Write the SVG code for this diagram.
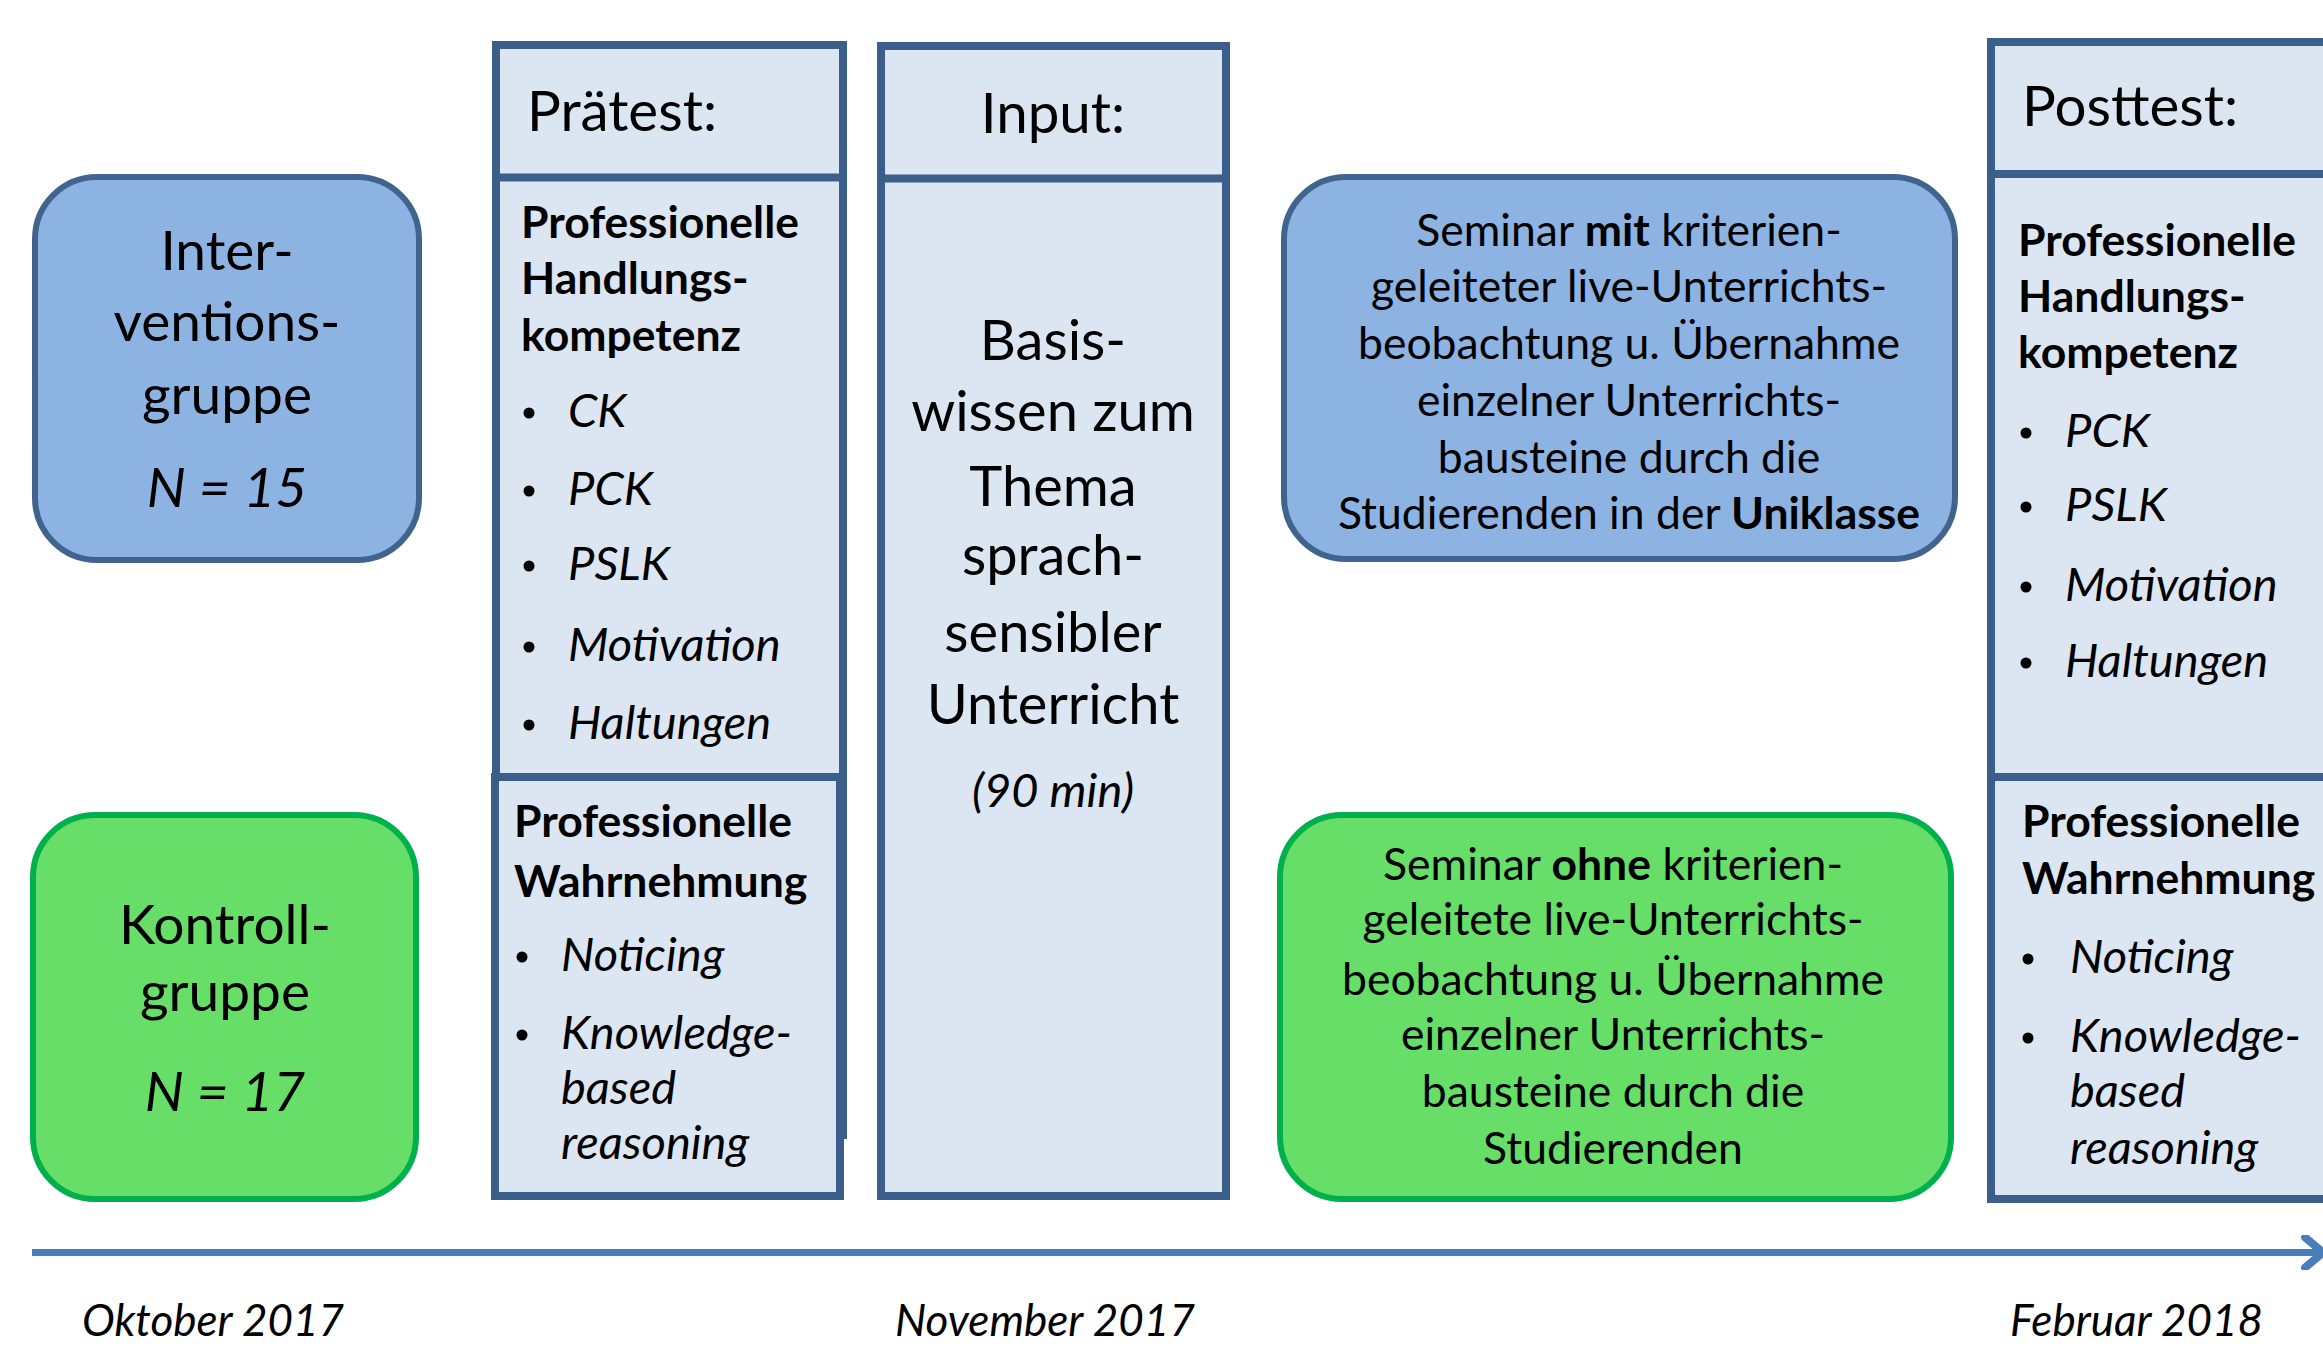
<svg xmlns="http://www.w3.org/2000/svg" width="2323" height="1348" viewBox="0 0 2323 1348">
  <style>
    text { font-family: Lato, "Open Sans", sans-serif; fill: #000; }
    .col { fill: #dce6f2; stroke: #3b5e8b; stroke-width: 8; }
    .div { stroke: #3b5e8b; stroke-width: 8; }
    .blue { fill: #8db3e2; stroke: #41648f; stroke-width: 6; }
    .green { fill: #66de68; stroke: #00b04c; stroke-width: 6; }
    .hdr { font-size: 56.5px; }
    .grp { font-size: 55px; text-anchor: middle; }
    .bold { font-size: 44.5px; font-weight: bold; }
    .it { font-size: 47px; font-style: italic; }
    .basis { font-size: 56px; text-anchor: middle; }
    .sem { font-size: 44.5px; text-anchor: middle; }
    .date { font-size: 44px; font-style: italic; }
    .mid { text-anchor: middle; }
    .dot { fill: #000; }
  </style>
  <defs>
    <marker id="chev" viewBox="0 0 10 10" refX="9" refY="5" markerWidth="5" markerHeight="5" markerUnits="strokeWidth" orient="auto">
      <path d="M3.9,0.7 L9,5 L3.9,9.3" fill="none" stroke="#4a7ebb" stroke-width="2.3" stroke-linecap="round" stroke-linejoin="round"/>
    </marker>
  </defs>

  <rect width="2323" height="1348" fill="#fff"/>

  <!-- timeline -->
  <g id="connectors">
    <line x1="32" y1="1252.5" x2="2323" y2="1252.5" stroke="#4a7ebb" stroke-width="7" marker-end="url(#chev)"/>
  </g>

  <!-- groups -->
  <g id="interventionsgruppe">
    <rect class="blue" x="35" y="177" width="384" height="383" rx="62"/>
    <text class="grp" x="227" y="270">Inter-</text>
    <text class="grp" x="227" y="341">ventions-</text>
    <text class="grp" x="227" y="414">gruppe</text>
    <text class="grp" x="227" y="507" font-style="italic">N = 15</text>
  </g>

  <g id="kontrollgruppe">
    <rect class="green" x="33" y="815" width="383" height="384" rx="62"/>
    <text class="grp" x="225" y="944">Kontroll-</text>
    <text class="grp" x="225" y="1011">gruppe</text>
    <text class="grp" x="225" y="1111" font-style="italic">N = 17</text>
  </g>

  <!-- pre-test column -->
  <g id="praetest">
    <rect class="col" x="496" y="45" width="347" height="1090"/>
    <line class="div" x1="496" y1="177.5" x2="843" y2="177.5"/>
    <text class="hdr" x="527" y="131">Prätest:</text>
    <text class="bold" x="521" y="238">Professionelle</text>
    <text class="bold" x="521" y="294">Handlungs-</text>
    <text class="bold" x="521" y="351">kompetenz</text>
    <circle class="dot" cx="529" cy="413" r="5.5"/><text class="it" x="568" y="427">CK</text>
    <circle class="dot" cx="529" cy="491" r="5.5"/><text class="it" x="568" y="505">PCK</text>
    <circle class="dot" cx="529" cy="566" r="5.5"/><text class="it" x="568" y="580">PSLK</text>
    <circle class="dot" cx="529" cy="647" r="5.5"/><text class="it" x="568" y="661">Motivation</text>
    <circle class="dot" cx="529" cy="725" r="5.5"/><text class="it" x="568" y="739">Haltungen</text>
  </g>

  <g id="praetest-wahrnehmung">
    <rect class="col" x="495" y="777" width="345" height="419"/>
    <text class="bold" x="514" y="837">Professionelle</text>
    <text class="bold" x="514" y="897">Wahrnehmung</text>
    <circle class="dot" cx="522" cy="957" r="5.5"/><text class="it" x="561" y="971">Noticing</text>
    <circle class="dot" cx="522" cy="1035" r="5.5"/><text class="it" x="561" y="1049">Knowledge-</text>
    <text class="it" x="561" y="1104">based</text>
    <text class="it" x="561" y="1159">reasoning</text>
  </g>

  <!-- input column -->
  <g id="input">
    <rect class="col" x="881" y="46" width="345" height="1150"/>
    <line class="div" x1="881" y1="178.5" x2="1226" y2="178.5"/>
    <text class="hdr mid" x="1053" y="133">Input:</text>
    <text class="basis" x="1053" y="360">Basis-</text>
    <text class="basis" x="1053" y="431">wissen zum</text>
    <text class="basis" x="1053" y="506">Thema</text>
    <text class="basis" x="1053" y="575">sprach-</text>
    <text class="basis" x="1053" y="652">sensibler</text>
    <text class="basis" x="1053" y="724">Unterricht</text>
    <text class="it mid" x="1053" y="807">(90 min)</text>
  </g>

  <!-- seminars -->
  <g id="seminar-mit">
    <rect class="blue" x="1284" y="177" width="671" height="382" rx="62"/>
    <text class="sem" x="1629" y="246">Seminar <tspan font-weight="bold">mit</tspan> kriterien-</text>
    <text class="sem" x="1629" y="302">geleiteter live-Unterrichts-</text>
    <text class="sem" x="1629" y="359">beobachtung u. Übernahme</text>
    <text class="sem" x="1629" y="416">einzelner Unterrichts-</text>
    <text class="sem" x="1629" y="473">bausteine durch die</text>
    <text class="sem" x="1629" y="529">Studierenden in der <tspan font-weight="bold">Uniklasse</tspan></text>
  </g>

  <g id="seminar-ohne">
    <rect class="green" x="1280" y="815" width="671" height="384" rx="62"/>
    <text class="sem" x="1613" y="880">Seminar <tspan font-weight="bold">ohne</tspan> kriterien-</text>
    <text class="sem" x="1613" y="935">geleitete live-Unterrichts-</text>
    <text class="sem" x="1613" y="995">beobachtung u. Übernahme</text>
    <text class="sem" x="1613" y="1050">einzelner Unterrichts-</text>
    <text class="sem" x="1613" y="1107">bausteine durch die</text>
    <text class="sem" x="1613" y="1164">Studierenden</text>
  </g>

  <!-- post-test column -->
  <g id="posttest">
    <rect class="col" x="1991" y="42" width="400" height="1157"/>
    <line class="div" x1="1991" y1="174" x2="2391" y2="174"/>
    <line class="div" x1="1991" y1="777" x2="2391" y2="777"/>
    <text class="hdr" x="2022" y="126">Posttest:</text>
    <text class="bold" x="2018" y="256">Professionelle</text>
    <text class="bold" x="2018" y="312">Handlungs-</text>
    <text class="bold" x="2018" y="368">kompetenz</text>
    <circle class="dot" cx="2026" cy="433" r="5.5"/><text class="it" x="2065" y="447">PCK</text>
    <circle class="dot" cx="2026" cy="507" r="5.5"/><text class="it" x="2065" y="521">PSLK</text>
    <circle class="dot" cx="2026" cy="587" r="5.5"/><text class="it" x="2065" y="601">Motivation</text>
    <circle class="dot" cx="2026" cy="663" r="5.5"/><text class="it" x="2065" y="677">Haltungen</text>
    <text class="bold" x="2022" y="837">Professionelle</text>
    <text class="bold" x="2022" y="894">Wahrnehmung</text>
    <circle class="dot" cx="2028" cy="959" r="5.5"/><text class="it" x="2070" y="973">Noticing</text>
    <circle class="dot" cx="2028" cy="1038" r="5.5"/><text class="it" x="2070" y="1052">Knowledge-</text>
    <text class="it" x="2070" y="1107">based</text>
    <text class="it" x="2070" y="1164">reasoning</text>
  </g>

  <!-- dates -->
  <g id="dates">
    <text class="date" x="82" y="1336">Oktober 2017</text>
    <text class="date" x="895" y="1336">November 2017</text>
    <text class="date" x="2010" y="1336">Februar 2018</text>
  </g>
</svg>
